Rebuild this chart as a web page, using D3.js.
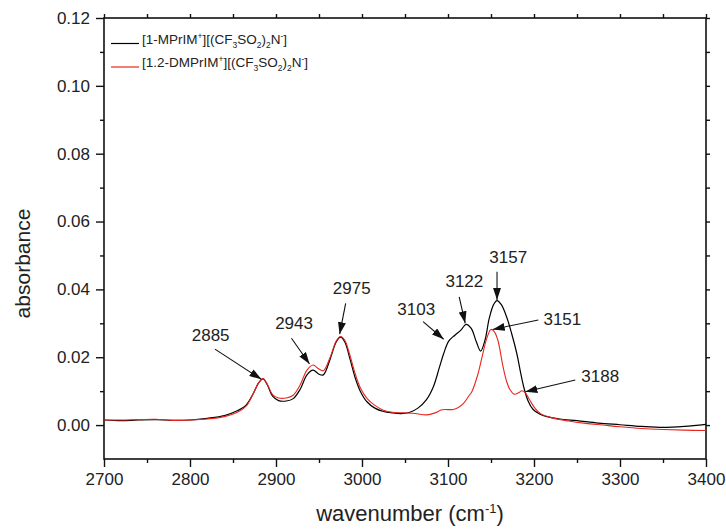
<!DOCTYPE html>
<html>
<head>
<meta charset="utf-8">
<script src="https://cdn.jsdelivr.net/npm/d3@7/dist/d3.min.js"></script>
<style>
  body { margin: 0; background: #fff; }
  svg text { font-family: "Liberation Sans", Arial, sans-serif; fill: #222; }
</style>
</head>
<body>
<div id="chart"></div>
<script>
// wavenumber (cm-1), absorbance
const blackWn = [2700, 2720, 2740, 2760, 2780, 2800, 2820, 2840, 2855, 2865, 2873, 2880, 2885, 2890, 2896, 2903, 2912, 2920, 2928, 2936, 2943, 2950, 2955, 2963, 2970, 2975, 2980, 2986, 2992, 2998, 3006, 3015, 3025, 3035, 3045, 3055, 3065, 3075, 3083, 3090, 3095, 3101, 3108, 3115, 3121, 3127, 3133, 3138, 3143, 3148, 3153, 3157, 3162, 3168, 3174, 3180, 3184, 3188, 3193, 3199, 3207, 3215, 3230, 3250, 3275, 3300, 3325, 3350, 3375, 3400];
const blackAbs = [0.0015, 0.0013, 0.0015, 0.0016, 0.0014, 0.0015, 0.0020, 0.0028, 0.0042, 0.0058, 0.0090, 0.0125, 0.0136, 0.0118, 0.0085, 0.0072, 0.0071, 0.0078, 0.0105, 0.0148, 0.0162, 0.0150, 0.0148, 0.0195, 0.0245, 0.0259, 0.0245, 0.0195, 0.0140, 0.0100, 0.0068, 0.0050, 0.0040, 0.0036, 0.0034, 0.0037, 0.0050, 0.0075, 0.0113, 0.0170, 0.0211, 0.0248, 0.0265, 0.0280, 0.0297, 0.0285, 0.0245, 0.0218, 0.0250, 0.0315, 0.0355, 0.0367, 0.0355, 0.0320, 0.0270, 0.0211, 0.0160, 0.0113, 0.0072, 0.0046, 0.0032, 0.0025, 0.0018, 0.0013, 0.0006, 0.0001, -0.0004, -0.0007, -0.0004, 0.0002];

const redWn = [2700, 2720, 2740, 2760, 2780, 2800, 2820, 2840, 2855, 2865, 2873, 2880, 2885, 2890, 2896, 2903, 2912, 2920, 2928, 2936, 2943, 2950, 2955, 2963, 2970, 2975, 2980, 2986, 2992, 2998, 3006, 3015, 3025, 3035, 3050, 3062, 3075, 3085, 3093, 3106, 3112, 3118, 3124, 3128, 3135, 3140, 3145, 3150, 3154, 3158, 3164, 3168, 3172, 3177, 3182, 3186, 3190, 3195, 3201, 3208, 3220, 3240, 3260, 3280, 3300, 3325, 3350, 3375, 3400];
const redAbs = [0.0015, 0.0015, 0.0016, 0.0017, 0.0014, 0.0015, 0.0018, 0.0025, 0.0038, 0.0055, 0.0090, 0.0125, 0.0137, 0.0120, 0.0090, 0.0080, 0.0080, 0.0088, 0.0118, 0.0162, 0.0177, 0.0165, 0.0160, 0.0200, 0.0248, 0.0261, 0.0250, 0.0205, 0.0152, 0.0110, 0.0078, 0.0058, 0.0044, 0.0038, 0.0036, 0.0034, 0.0030, 0.0036, 0.0045, 0.0046, 0.0052, 0.0064, 0.0085, 0.0100, 0.0152, 0.0205, 0.0255, 0.0282, 0.0275, 0.0250, 0.0172, 0.0130, 0.0105, 0.0091, 0.0095, 0.0101, 0.0095, 0.0074, 0.0050, 0.0033, 0.0022, 0.0012, 0.0005, 0.0000, -0.0005, -0.0010, -0.0013, -0.0015, -0.0016];

const xTicks = [2700, 2800, 2900, 3000, 3100, 3200, 3300, 3400];
const yTicks = [0.00, 0.02, 0.04, 0.06, 0.08, 0.10, 0.12];

// peak labels: text point, arrow start, arrow tip (data units)
const peakLabels = ["2885", "2943", "2975", "3103", "3122", "3157", "3151", "3188"];
const labelAt = [[2824, 0.0265], [2921, 0.0301], [2988, 0.0403], [3063, 0.0344], [3119, 0.0426], [3170, 0.0496], [3233, 0.0313], [3277, 0.0145]];
const arrowFrom = [[2829, 0.0224], [2918, 0.0256], [2981, 0.0359], [3071, 0.0305], [3113, 0.0378], [3157, 0.0452], [3205, 0.0310], [3248, 0.0133]];
const arrowTo = [[2883, 0.0135], [2939, 0.0180], [2974, 0.0268], [3095, 0.0253], [3120, 0.0300], [3157, 0.0369], [3152, 0.0282], [3190, 0.0098]];

const width = 726, height = 530;
const margin = { top: 18, right: 20, bottom: 71, left: 104 };

const svg = d3.select("#chart").append("svg")
  .attr("width", width)
  .attr("height", height);

const x = d3.scaleLinear().domain([2700, 3400]).range([margin.left, width - margin.right]);
const y = d3.scaleLinear().domain([-0.01, 0.12]).range([height - margin.bottom, margin.top]);

const x0 = margin.left, x1 = width - margin.right;
const y0 = height - margin.bottom, y1 = margin.top;

// minor ticks
const xMinor = d3.range(2750, 3400, 100);
const yMinor = d3.range(0.01, 0.12, 0.02);

function tickGroup(axis, tr) {
  return svg.append("g").attr("transform", tr).call(axis)
    .call(g => g.select(".domain").remove())
    .call(g => g.selectAll("line").attr("stroke", "#111").attr("stroke-width", 1.4));
}

// bottom
tickGroup(d3.axisBottom(x).tickValues(xTicks).tickSize(8).tickSizeOuter(0).tickPadding(6).tickFormat(d3.format("d")), `translate(0,${y0})`)
  .selectAll("text").attr("font-size", 17);
tickGroup(d3.axisBottom(x).tickValues(xMinor).tickSize(4).tickFormat(""), `translate(0,${y0})`);
// left
tickGroup(d3.axisLeft(y).tickValues(yTicks).tickSize(8).tickPadding(6).tickFormat(d3.format(".2f")), `translate(${x0},0)`)
  .selectAll("text").attr("font-size", 17);
tickGroup(d3.axisLeft(y).tickValues(yMinor).tickSize(4).tickFormat(""), `translate(${x0},0)`);
// top + right mirror ticks
tickGroup(d3.axisTop(x).tickValues(xTicks.concat(xMinor)).tickSize(4).tickFormat(""), `translate(0,${y1})`);
tickGroup(d3.axisRight(y).tickValues(yTicks.concat(yMinor)).tickSize(4).tickFormat(""), `translate(${x1},0)`);

// frame
svg.append("rect")
  .attr("x", x0).attr("y", y1)
  .attr("width", x1 - x0).attr("height", y0 - y1)
  .attr("fill", "none").attr("stroke", "#111").attr("stroke-width", 1.6);

// spectra
const line = d3.line()
  .x(d => x(d[0]))
  .y(d => y(d[1]))
  .curve(d3.curveCatmullRom.alpha(0.5));

svg.append("path")
  .datum(d3.zip(blackWn, blackAbs))
  .attr("d", line)
  .attr("fill", "none").attr("stroke", "#000").attr("stroke-width", 1.2);

svg.append("path")
  .datum(d3.zip(redWn, redAbs))
  .attr("d", line)
  .attr("fill", "none").attr("stroke", "#e8261e").attr("stroke-width", 1.1);

// arrows
svg.append("defs").append("marker")
  .attr("id", "arrowhead")
  .attr("viewBox", "0 0 12 8")
  .attr("refX", 12).attr("refY", 4)
  .attr("markerWidth", 12).attr("markerHeight", 8)
  .attr("markerUnits", "userSpaceOnUse")
  .attr("orient", "auto")
  .append("path")
  .attr("d", "M0,0 L12,4 L0,8 Z")
  .attr("fill", "#111");

peakLabels.forEach((lab, i) => {
  svg.append("line")
    .attr("x1", x(arrowFrom[i][0])).attr("y1", y(arrowFrom[i][1]))
    .attr("x2", x(arrowTo[i][0])).attr("y2", y(arrowTo[i][1]))
    .attr("stroke", "#111").attr("stroke-width", 1.1)
    .attr("marker-end", "url(#arrowhead)");
  svg.append("text")
    .attr("x", x(labelAt[i][0])).attr("y", y(labelAt[i][1]))
    .attr("dy", "0.36em")
    .attr("text-anchor", "middle")
    .attr("font-size", 17)
    .text(lab);
});

// legend
const legendItems = [
  { color: "#000", cation: "[1-MPrIM" },
  { color: "#e8261e", cation: "[1.2-DMPrIM" }
];
const legend = svg.append("g");
legendItems.forEach((it, i) => {
  const ly = 43.5 + i * 23.5;
  legend.append("line")
    .attr("x1", 111).attr("x2", 139).attr("y1", ly).attr("y2", ly)
    .attr("stroke", it.color).attr("stroke-width", 1.2);
  const t = legend.append("text")
    .attr("x", 142).attr("y", ly).attr("dy", "0.36em")
    .attr("font-size", 13.5);
  const parts = [
    [it.cation, 0], ["+", -1], ["][(CF", 0], ["3", 1], ["SO", 0], ["2", 1], [")", 0], ["2", 1], ["N", 0], ["-", -1], ["]", 0]
  ];
  let shift = 0;
  parts.forEach(([s, k]) => {
    const target = k === -1 ? -5 : k === 1 ? 4 : 0;
    t.append("tspan")
      .attr("dy", target - shift)
      .attr("font-size", k === 0 ? 13.5 : 8.5)
      .text(s);
    shift = target;
  });
});

// axis titles
svg.append("text")
  .attr("x", (x0 + x1) / 2 + 5).attr("y", 521)
  .attr("text-anchor", "middle")
  .attr("font-size", 22)
  .call(t => {
    t.append("tspan").text("wavenumber (cm");
    t.append("tspan").attr("dy", -8).attr("font-size", 13).text("-1");
    t.append("tspan").attr("dy", 8).text(")");
  });

svg.append("text")
  .attr("transform", `translate(30,${(y0 + y1) / 2 + 25}) rotate(-90)`)
  .attr("text-anchor", "middle")
  .attr("font-size", 21)
  .text("absorbance");
</script>
</body>
</html>
